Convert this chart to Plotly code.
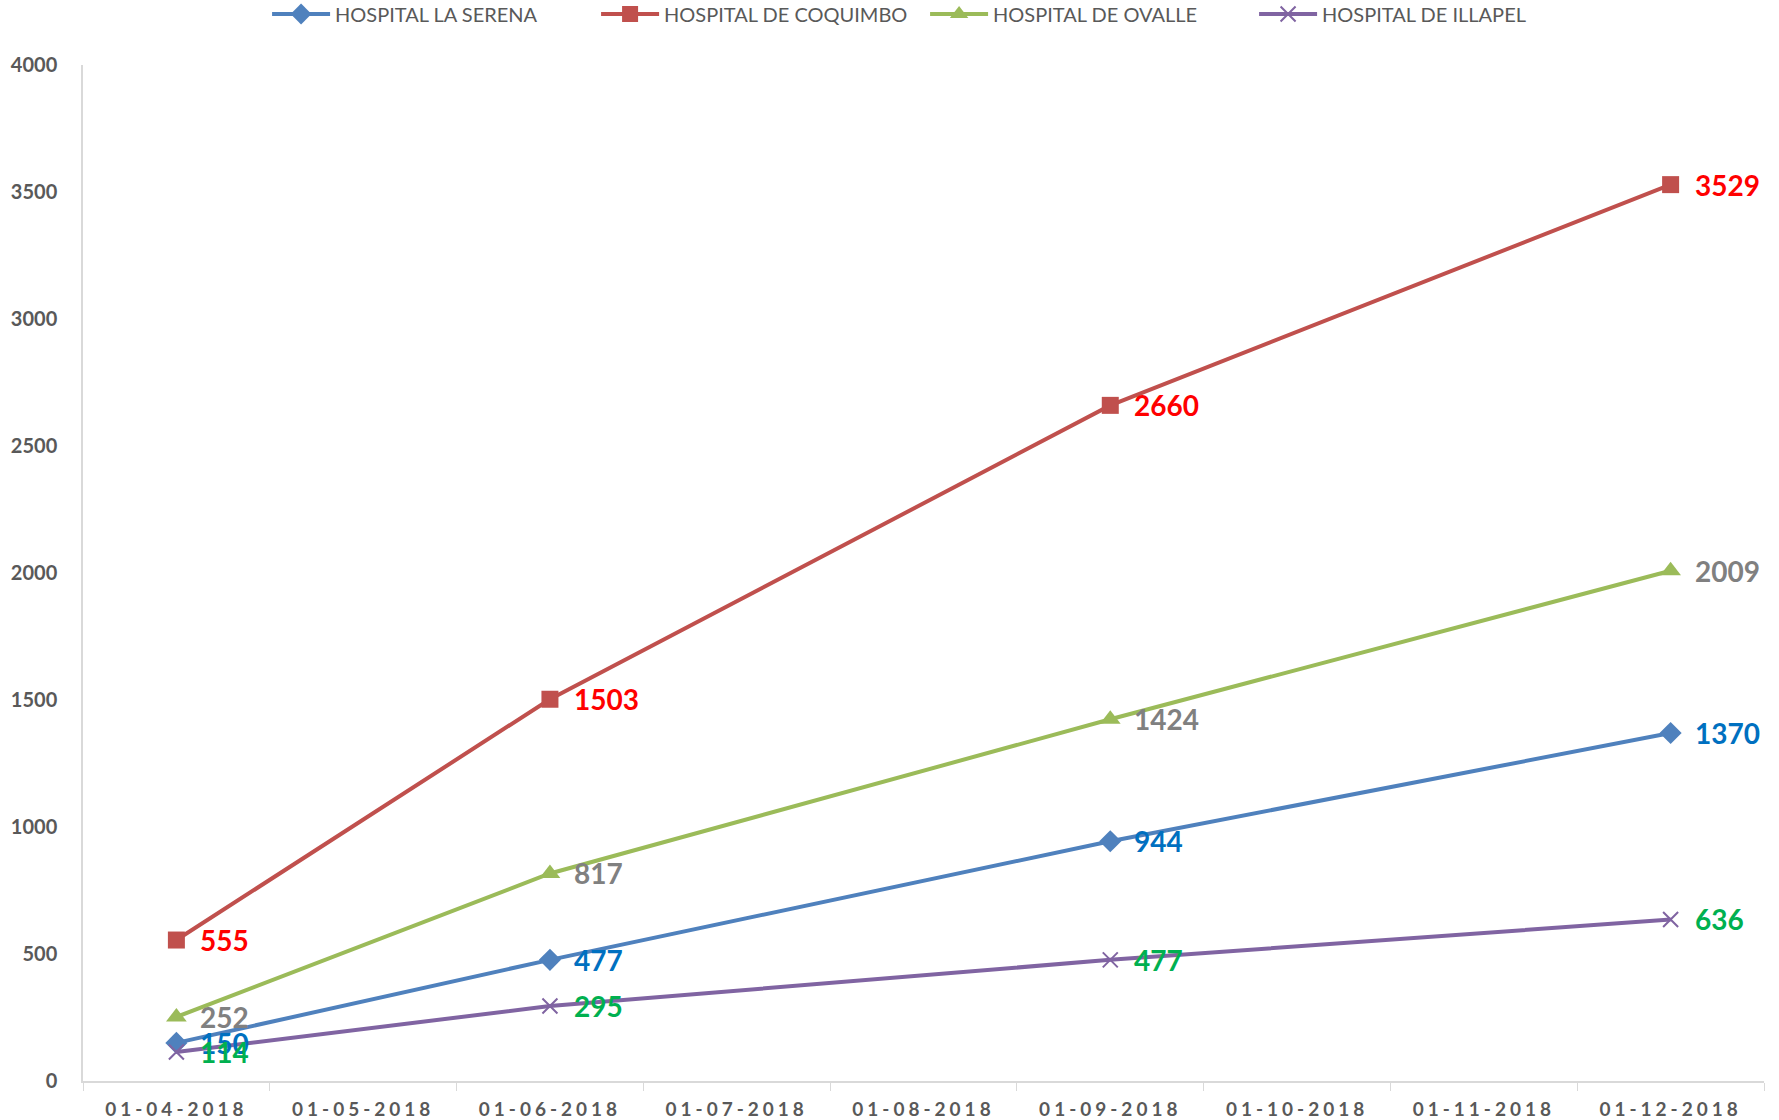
import plotly.graph_objects as go

months = ["01-04-2018", "01-05-2018", "01-06-2018", "01-07-2018", "01-08-2018",
          "01-09-2018", "01-10-2018", "01-11-2018", "01-12-2018"]
dates = ["01-04-2018", "01-06-2018", "01-09-2018", "01-12-2018"]

la_serena = [150, 477, 944, 1370]
coquimbo = [555, 1503, 2660, 3529]
ovalle = [252, 817, 1424, 2009]
illapel = [114, 295, 477, 636]

series = [
    ("HOSPITAL LA SERENA", la_serena, "#4F81BD", "diamond", "#0070C0"),
    ("HOSPITAL DE COQUIMBO", coquimbo, "#C0504D", "square", "#FF0000"),
    ("HOSPITAL DE OVALLE", ovalle, "#9BBB59", "triangle-up", "#808080"),
    ("HOSPITAL DE ILLAPEL", illapel, "#8064A2", "x-thin", "#00B050"),
]

fig = go.Figure()
annotations = []
for name, vals, color, sym, lblcolor in series:
    if sym == "x-thin":
        marker = dict(symbol=sym, size=15, color=color, line=dict(width=2, color=color))
    elif sym == "triangle-up":
        marker = dict(symbol=sym, size=18, color=color)
    else:
        marker = dict(symbol=sym, size=17, color=color)
    fig.add_trace(go.Scatter(
        x=dates, y=vals, name=name, mode="lines+markers",
        line=dict(color=color, width=4), marker=marker,
    ))
    for xv, yv in zip(dates, vals):
        annotations.append(dict(
            x=xv, y=yv, xref="x", yref="y", text=str(yv), showarrow=False,
            xanchor="left", yanchor="middle", xshift=22,
            font=dict(family="Lato", size=28, color=lblcolor, weight="bold"),
        ))

fig.update_layout(
    width=1779, height=1120,
    margin=dict(l=83, r=15, t=65, b=39, autoexpand=False),
    paper_bgcolor="white", plot_bgcolor="white",
    annotations=annotations,
    legend=dict(
        orientation="h", xref="container", x=0.52, xanchor="center",
        yref="container", y=0.9875, yanchor="middle",
        font=dict(family="Lato", size=20, color="#595959"),
        itemwidth=58, entrywidth=256,
    ),
)
fig.update_xaxes(
    type="category", categoryorder="array", categoryarray=months,
    tickvals=months, range=[-0.5, 8.5], automargin=False,
    showline=True, linecolor="#D9D9D9", linewidth=1.5,
    ticks="outside", tickson="boundaries", ticklen=8, tickcolor="#D9D9D9",
    ticklabelstandoff=10,
    showgrid=False, zeroline=False,
    tickfont=dict(family="Lato", size=19, color="#595959", weight="bold"),
)
fig.update_yaxes(
    range=[0, 4000], tickvals=[0, 500, 1000, 1500, 2000, 2500, 3000, 3500, 4000],
    automargin=False,
    showline=True, linecolor="#D9D9D9", linewidth=1.5,
    ticks="", ticklabelstandoff=20,
    showgrid=False, zeroline=False,
    tickfont=dict(family="Lato", size=20, color="#595959", weight="bold"),
)

post = """
document.body.style.margin='0';
document.querySelectorAll('.xtick text').forEach(function(t){t.style.letterSpacing='4px';});
"""
fig.write_html("out.html", post_script=post, config={"displayModeBar": False})
